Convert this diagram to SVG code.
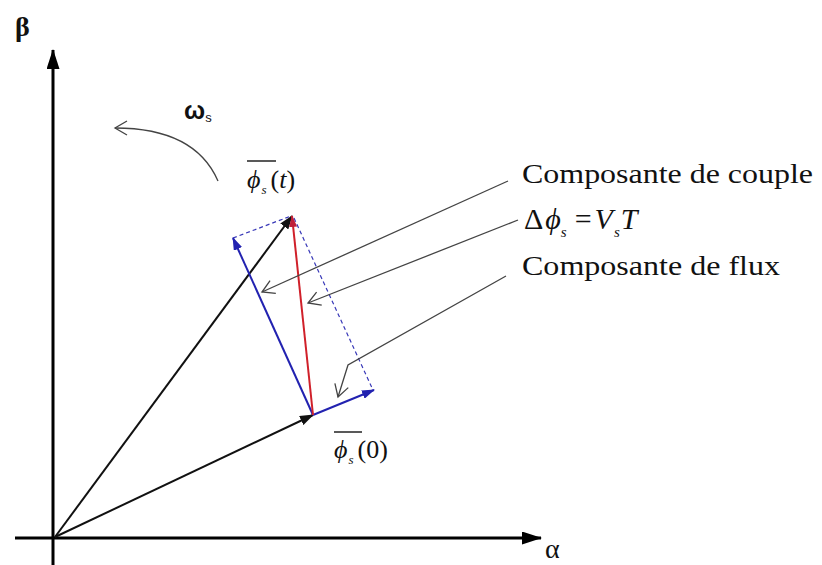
<svg xmlns="http://www.w3.org/2000/svg" width="822" height="565" viewBox="0 0 822 565">
<style>
.axis{stroke:#000;stroke-width:3;fill:none}
.vec{stroke:#111;stroke-width:2;fill:none}
.red{stroke:#d0202a;stroke-width:2;fill:none}
.blue{stroke:#2222b0;stroke-width:2;fill:none}
.dash{stroke:#3838b8;stroke-width:1.2;fill:none;stroke-dasharray:4 3}
.lead{stroke:#444;stroke-width:1.3;fill:none}
.tx{font-family:"Liberation Serif",serif;fill:#111}
.it{font-style:italic}
</style>
<defs>
<marker id="axh" markerUnits="userSpaceOnUse" markerWidth="20" markerHeight="13" refX="19" refY="6.5" orient="auto" viewBox="0 0 20 13"><path d="M0,0 L20,6.5 L0,13 z" fill="#000"/></marker>
<marker id="bk" markerUnits="userSpaceOnUse" markerWidth="14" markerHeight="10" refX="13" refY="5" orient="auto" viewBox="0 0 14 10"><path d="M0,0 L14,5 L0,10 z" fill="#111"/></marker>
<marker id="bl" markerUnits="userSpaceOnUse" markerWidth="13" markerHeight="9" refX="12" refY="4.5" orient="auto" viewBox="0 0 13 9"><path d="M0,0 L13,4.5 L0,9 z" fill="#2222b0"/></marker>
<marker id="rd" markerUnits="userSpaceOnUse" markerWidth="12" markerHeight="8" refX="11" refY="4" orient="auto" viewBox="0 0 12 8"><path d="M0,0 L12,4 L0,8 z" fill="#c0203a"/></marker>
<marker id="op" markerUnits="userSpaceOnUse" markerWidth="16" markerHeight="16" refX="14" refY="8" orient="auto" viewBox="0 0 16 16"><path d="M2,1 L14,8 L2,15" fill="none" stroke="#444" stroke-width="1.3"/></marker>
</defs>

<g id="axes">
<line class="axis" x1="53" y1="565" x2="53" y2="50" marker-end="url(#axh)"/>
<line class="axis" x1="15" y1="538" x2="541" y2="538" marker-end="url(#axh)"/>
<text class="tx" x="545" y="558" font-size="28">α</text>
<text class="tx" x="15" y="36" font-size="28" font-weight="bold">β</text>
</g>

<g id="rotation">
<path class="lead" d="M218,181 Q195,128 115,128" marker-end="url(#op)"/>
<text x="184" y="119" font-family="Liberation Sans,sans-serif" font-weight="bold" font-size="25" fill="#111">ω<tspan font-size="13" dy="3" font-weight="normal">s</tspan></text>
</g>

<g id="connectors">
<line class="vec" x1="55" y1="537" x2="292" y2="216" marker-end="url(#bk)"/>
<line class="vec" x1="55" y1="537" x2="313" y2="415" marker-end="url(#bk)"/>
<line class="dash" x1="233" y1="238" x2="291" y2="216"/>
<line class="dash" x1="294" y1="218" x2="373" y2="390"/>
<line class="blue" x1="313" y1="415" x2="233" y2="238" marker-end="url(#bl)"/>
<line class="blue" x1="313" y1="415" x2="374" y2="390" marker-end="url(#bl)"/>
<line class="red" x1="313" y1="415" x2="292" y2="216" marker-end="url(#rd)"/>
<line class="lead" x1="508" y1="181" x2="262" y2="292" marker-end="url(#op)"/>
<line class="lead" x1="518" y1="220" x2="308" y2="303" marker-end="url(#op)"/>
<path class="lead" d="M506,276 L348,365 L338,397" marker-end="url(#op)"/>
</g>

<g id="phi_t">
<line x1="247" y1="161" x2="276" y2="161" stroke="#222" stroke-width="1.5"/>
<text class="tx" x="247" y="188" font-size="26"><tspan class="it">ϕ</tspan><tspan class="it" font-size="13" dy="6" dx="1">s</tspan><tspan dy="-6" dx="4">(</tspan><tspan class="it">t</tspan>)</text>
</g>

<g id="phi_0">
<line x1="334" y1="432" x2="362" y2="432" stroke="#222" stroke-width="1.5"/>
<text class="tx" x="334" y="458" font-size="26"><tspan class="it">ϕ</tspan><tspan class="it" font-size="13" dy="6" dx="1">s</tspan><tspan dy="-6" dx="4">(0)</tspan></text>
</g>

<g id="label_couple">
<text class="tx" x="522" y="183" font-size="27" textLength="291" lengthAdjust="spacingAndGlyphs">Composante de couple</text>
</g>

<g id="label_delta">
<text class="tx" x="524" y="229" font-size="30">Δ<tspan class="it" dx="2">ϕ</tspan><tspan class="it" font-size="15" dy="8">s</tspan><tspan dy="-8" dx="8">=</tspan><tspan class="it" dx="3">V</tspan><tspan class="it" font-size="15" dy="8" dx="1">s</tspan><tspan class="it" dy="-8" dx="1">T</tspan></text>
</g>

<g id="label_flux">
<text class="tx" x="522" y="275" font-size="27" textLength="258" lengthAdjust="spacingAndGlyphs">Composante de flux</text>
</g>
</svg>
